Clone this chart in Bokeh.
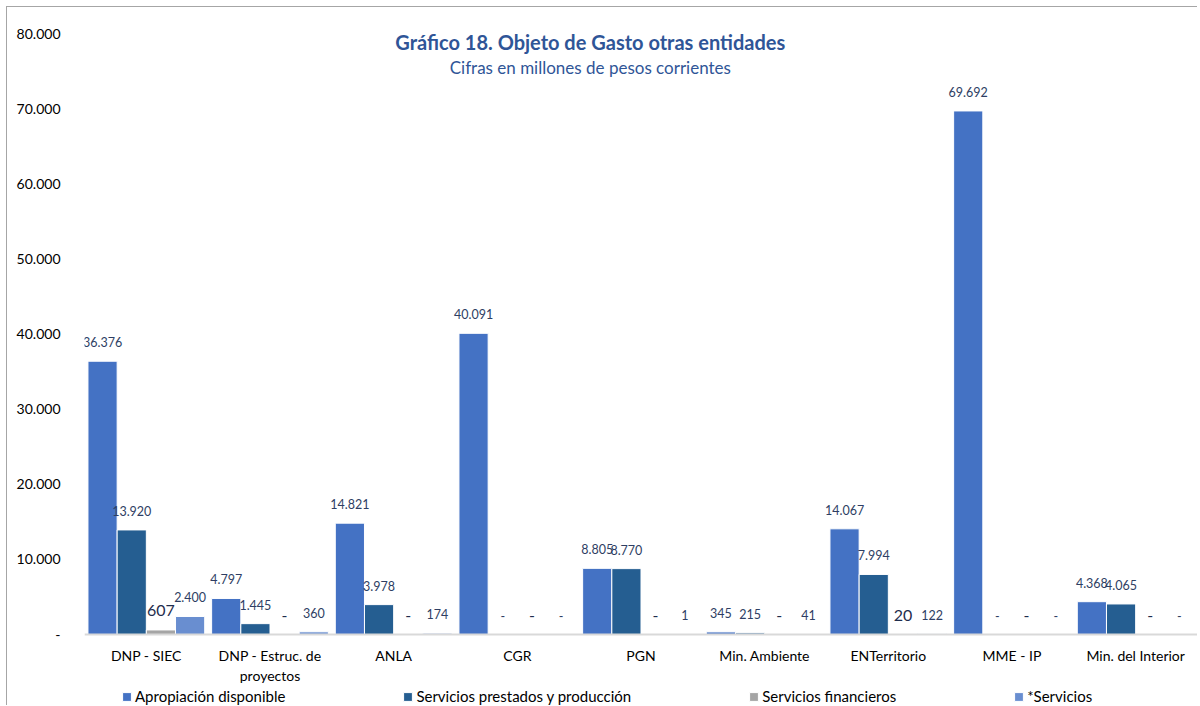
from bokeh.plotting import figure
from bokeh.models import ColumnDataSource, FactorRange, Range1d, LabelSet, Label, FixedTicker, Legend, LegendItem
from bokeh.transform import dodge
from bokeh.embed import file_html
from bokeh.resources import INLINE
from bokeh.core.properties import value

categories = ["DNP - SIEC", "DNP - Estruc. de\nproyectos", "ANLA", "CGR", "PGN",
              "Min. Ambiente", "ENTerritorio", "MME - IP", "Min. del Interior"]
apropiacion = [36376, 4797, 14821, 40091, 8805, 345, 14067, 69692, 4368]
serv_prestados = [13920, 1445, 3978, 0, 8770, 215, 7994, 0, 4065]
serv_financieros = [607, 0, 0, 0, 0, 0, 20, 0, 0]
serv_otros = [2400, 360, 174, 0, 1, 41, 122, 0, 0]
series_names = ["Apropiación disponible", "Servicios prestados y producción",
                "Servicios financieros", "*Servicios"]
series_values = [apropiacion, serv_prestados, serv_financieros, serv_otros]
colors = ["#4472C4", "#255E91", "#A5A5A5", "#698ED0"]
y_ticks = [0, 10000, 20000, 30000, 40000, 50000, 60000, 70000, 80000]
title_text = "Gráfico 18. Objeto de Gasto otras entidades"
subtitle_text = "Cifras en millones de pesos corrientes"

FONT = "Lato"
Y_MAX = 80000
Y_MIN = -9450  # room below the zero line for category labels and legend


def fmt(v):
    return "-" if v == 0 else f"{v:,}".replace(",", ".")


p = figure(x_range=FactorRange(*categories, range_padding=0),
           y_range=Range1d(Y_MIN, Y_MAX),
           frame_width=1113, frame_height=672,
           min_border_left=77, min_border_right=0, min_border_top=26, min_border_bottom=0,
           output_backend="svg", toolbar_location=None,
           styles={"margin-left": "6px", "margin-top": "6px",
                   "border-left": "1px solid #A6A6A6", "border-top": "1px solid #A6A6A6"})
p.outline_line_color = None
p.xgrid.grid_line_color = None
p.ygrid.grid_line_color = None

w = 0.236
offsets = [-1.5 * w, -0.5 * w, 0.5 * w, 1.5 * w]
items = []
for i, (name, vals, col) in enumerate(zip(series_names, series_values, colors)):
    src = ColumnDataSource(dict(cat=categories, val=vals, lab=[fmt(v) for v in vals]))
    r = p.vbar(x=dodge("cat", offsets[i], range=p.x_range), top="val", width=w, source=src,
               fill_color=col, line_color="white", line_width=1)
    items.append(LegendItem(label=name, renderers=[r]))
    big = (i == 2)
    ls = LabelSet(x=dodge("cat", offsets[i], range=p.x_range), y="val", text="lab", source=src,
                  y_offset=19, text_align="center", text_baseline="middle",
                  text_font=value(FONT), text_font_size="16px" if big else "12.5px",
                  text_color="#1F2D4D" if big else "#2E3E63")
    p.add_layout(ls)

# Axes
p.yaxis.ticker = FixedTicker(ticks=y_ticks)
p.yaxis.major_label_overrides = {t: fmt(t) for t in y_ticks}
p.yaxis.axis_line_color = None
p.yaxis.major_tick_line_color = None
p.yaxis.minor_tick_line_color = None
p.yaxis.major_label_standoff = 18
p.yaxis.major_label_text_font = FONT
p.yaxis.major_label_text_font_size = "14px"
p.yaxis.major_label_text_color = "#000000"

p.xaxis.fixed_location = 0
p.xaxis.axis_line_color = "#D9D9D9"
p.xaxis.axis_line_width = 2
p.xaxis.major_tick_line_color = None
p.xaxis.minor_tick_line_color = None
p.xaxis.major_tick_out = 6
p.xaxis.major_label_standoff = 6
p.xaxis.major_label_text_font = FONT
p.xaxis.major_label_text_font_size = "14px"
p.xaxis.major_label_text_color = "#000000"

# Titles
p.add_layout(Label(x=4.09, y=78900, text=title_text, text_align="center", text_baseline="middle",
                   text_font=FONT, text_font_size="20px", text_font_style="bold",
                   text_color="#2F5597"))
p.add_layout(Label(x=4.09, y=75470, text=subtitle_text, text_align="center", text_baseline="middle",
                   text_font=FONT, text_font_size="17px", text_color="#2F5597"))

legend = Legend(items=items, orientation="horizontal", location=(37, 0), spacing=117,
                glyph_width=11, glyph_height=11, label_standoff=3, padding=0, margin=0,
                border_line_color=None, background_fill_alpha=0,
                label_text_font=FONT, label_text_font_size="15px", label_text_color="#000000",
                label_height=16)
p.add_layout(legend)

open("out.html", "w").write(file_html(p, INLINE))
